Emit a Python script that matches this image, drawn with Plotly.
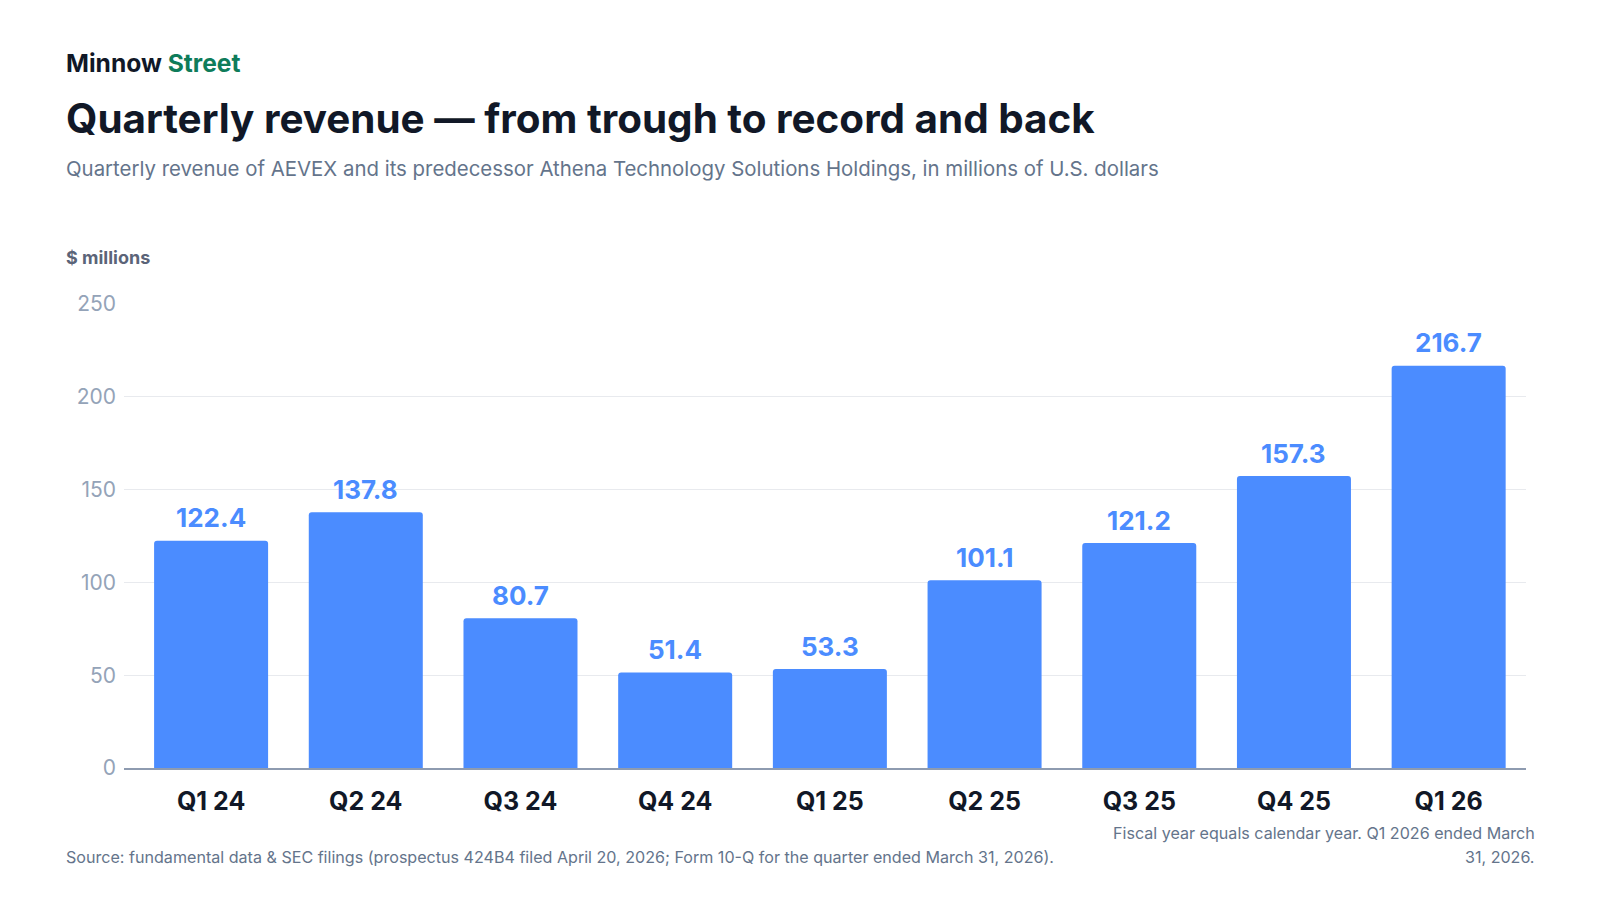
import plotly.graph_objects as go

# Quarterly revenue, $ millions
quarters = ["Q1 24", "Q2 24", "Q3 24", "Q4 24", "Q1 25", "Q2 25", "Q3 25", "Q4 25", "Q1 26"]
revenue = [122.4, 137.8, 80.7, 51.4, 53.3, 101.1, 121.2, 157.3, 216.7]
y_ticks = [0, 50, 100, 150, 200, 250]

BLUE = "#4b8cff"
INK = "#111827"
SLATE = "#64748b"
MUTED = "#94a3b8"
GREEN = "#0e7c5a"
FONT = "Inter, Roboto, Arial, sans-serif"

# page body keeps an 8px margin, so the figure is 16px smaller than the window
PAD = 8
PLOT_L, PLOT_R, PLOT_T, PLOT_B = 124, 1526, 303.7, 768   # plot area in window pixels


def px_to_paper(x, y):
    return (x - PLOT_L) / (PLOT_R - PLOT_L), (PLOT_B - y) / (PLOT_B - PLOT_T)


fig = go.Figure(
    go.Bar(
        x=quarters,
        y=revenue,
        marker=dict(color=BLUE, cornerradius=3, line=dict(width=0)),
        hoverinfo="x+y",
    )
)

# value labels above the bars
for q, v in zip(quarters, revenue):
    fig.add_annotation(
        x=q, y=v, xref="x", yref="y", text=f"{v:.1f}", showarrow=False,
        yanchor="middle", yshift=23,
        font=dict(family=FONT, size=26, color=BLUE, weight="bold"),
    )

fig.update_layout(
    width=1600 - 2 * PAD,
    height=900 - 2 * PAD,
    paper_bgcolor="white",
    plot_bgcolor="white",
    margin=dict(l=PLOT_L - PAD, r=1600 - PAD - PLOT_R, t=PLOT_T - PAD, b=900 - PAD - PLOT_B),
    bargap=0.263,
    showlegend=False,
    font=dict(family=FONT, color=INK),
)

fig.update_yaxes(
    range=[0, 250],
    tickvals=y_ticks,
    showgrid=True,
    gridcolor="#e8eaee",
    gridwidth=1,
    zeroline=False,
    showline=False,
    ticks="",
    ticklabelstandoff=7,
    tickfont=dict(family=FONT, size=21, color=MUTED),
)
fig.update_xaxes(
    range=[-0.563, 8.5],
    showline=True,
    linecolor="#8e9bb0",
    linewidth=2,
    ticks="",
    ticklabelstandoff=10,
    tickfont=dict(family=FONT, size=25, color=INK, weight="bold"),
)

annotations = [
    (64.3, 62.2, f"Minnow <span style='color:{GREEN}'>Street</span>",
     dict(size=24.6, color=INK, weight="bold")),
    (64.3, 118.4, "Quarterly revenue — from trough to record and back",
     dict(size=40.4, color=INK, weight="bold")),
    (64.3, 168.4,
     "Quarterly revenue of AEVEX and its predecessor Athena Technology Solutions Holdings, in millions of U.S. dollars",
     dict(size=20.4, color=SLATE)),
    (64.3, 257, "$ millions", dict(size=18, color="#5b6478", weight="bold")),
    (64.3, 857,
     "Source: fundamental data & SEC filings (prospectus 424B4 filed April 20, 2026; Form 10-Q for the quarter ended March 31, 2026).",
     dict(size=16.1, color=SLATE)),
]
for x, y, text, font in annotations:
    px_, py_ = px_to_paper(x, y)
    fig.add_annotation(xref="paper", yref="paper", x=px_, y=py_, xanchor="left",
                       yanchor="middle", showarrow=False, text=text, font=font)

# right-aligned note, one annotation per line
note_lines = ["Fiscal year equals calendar year. Q1 2026 ended March", "31, 2026."]
for line, y in zip(note_lines, [833, 856.7]):
    nx, ny = px_to_paper(1536.5, y)
    fig.add_annotation(
        xref="paper", yref="paper", x=nx, y=ny,
        xanchor="right", yanchor="middle", showarrow=False,
        text=line, font=dict(size=16.1, color=SLATE),
    )

fig.write_html("out.html")
